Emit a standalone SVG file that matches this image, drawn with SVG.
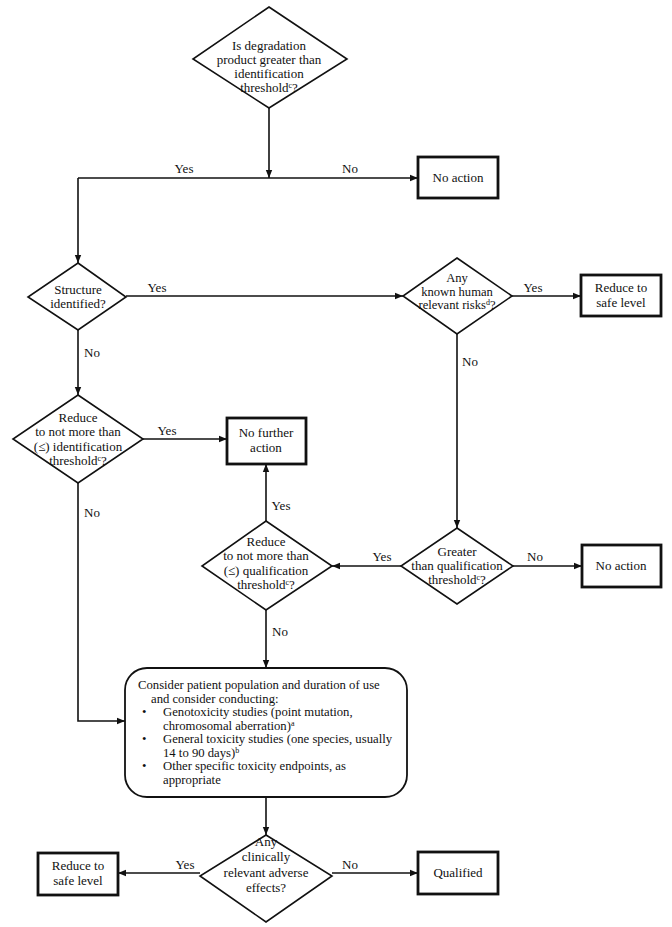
<svg xmlns="http://www.w3.org/2000/svg" width="672" height="927" viewBox="0 0 672 927">
<defs>
<marker id="ah" viewBox="0 0 10 10" refX="10" refY="5" markerWidth="8" markerHeight="8" markerUnits="userSpaceOnUse" orient="auto">
<path d="M0,1 L10,5 L0,9 Z" fill="#111"/>
</marker>
</defs>
<style>
text{font-family:"Liberation Serif","Times New Roman",serif;font-size:13px;fill:#111}
.c{text-anchor:middle}
.d{fill:#fff;stroke:#111;stroke-width:1.6}
.b{fill:#fff;stroke:#111;stroke-width:2.8}
.r{fill:#fff;stroke:#111;stroke-width:1.8}
.l{fill:none;stroke:#111;stroke-width:1.6}
.a{marker-end:url(#ah)}
.s{font-size:8px}
.t{font-size:12.7px}
.q{font-size:12.6px}
</style>
<rect width="672" height="927" fill="#fff"/>
<g id="connectors">
<path class="l a" d="M269,108 V178"/>
<path class="l" d="M78,178 H269"/>
<path class="l a" d="M269,178 H418"/>
<path class="l a" d="M78,178 V263"/>
<path class="l a" d="M126,296 H403"/>
<path class="l a" d="M512,296 H581"/>
<path class="l a" d="M78,330 V395"/>
<path class="l a" d="M143,439 H227"/>
<path class="l a" d="M457,334 V528"/>
<path class="l a" d="M513,566 H582"/>
<path class="l a" d="M401,566 H332"/>
<path class="l a" d="M266,521 V464"/>
<path class="l a" d="M78,483 V721 H125"/>
<path class="l a" d="M266,610 V668"/>
<path class="l a" d="M266,797 V835"/>
<path class="l a" d="M200,873 H118"/>
<path class="l a" d="M332,873 H418"/>
<text x="184" y="173" class="c">Yes</text>
<text x="350" y="173" class="c">No</text>
<text x="157" y="292" class="c">Yes</text>
<text x="533" y="292" class="c">Yes</text>
<text x="92" y="357" class="c">No</text>
<text x="470" y="366" class="c">No</text>
<text x="167" y="435" class="c">Yes</text>
<text x="281" y="510" class="c">Yes</text>
<text x="382" y="561" class="c">Yes</text>
<text x="535" y="561" class="c">No</text>
<text x="92" y="517" class="c">No</text>
<text x="280" y="636" class="c">No</text>
<text x="185" y="869" class="c">Yes</text>
<text x="350" y="869" class="c">No</text>
</g>
<g id="q1">
<polygon class="d" points="269,7 347,59 269,108 193,59"/>
<text class="c"><tspan x="269" y="50">Is degradation</tspan><tspan x="269" dy="14">product greater than</tspan><tspan x="269" dy="14">identification</tspan><tspan x="269" dy="14">threshold<tspan class="s" baseline-shift="super">c</tspan>?</tspan></text>
</g>
<g id="noaction1">
<rect class="b" x="418" y="157" width="80" height="41"/>
<text x="458" y="182" class="c">No action</text>
</g>
<g id="q2">
<polygon class="d" points="78,263 126,297 78,330 28,297"/>
<text class="c"><tspan x="78" y="294">Structure</tspan><tspan x="78" dy="14">identified?</tspan></text>
</g>
<g id="q3">
<polygon class="d" points="457,258 512,296 457,334 403,296"/>
<text class="c q"><tspan x="457" y="282">Any</tspan><tspan x="457" dy="13.5">known human</tspan><tspan x="457" dy="13.5">relevant risks<tspan class="s" baseline-shift="super">d</tspan>?</tspan></text>
</g>
<g id="reduce1">
<rect class="b" x="581" y="275" width="80" height="41"/>
<text class="c"><tspan x="621" y="292">Reduce to</tspan><tspan x="621" dy="15">safe level</tspan></text>
</g>
<g id="q4">
<polygon class="d" points="78,395 143,439 78,483 13,439"/>
<text class="c"><tspan x="78" y="422">Reduce</tspan><tspan x="78" dy="14">to not more than</tspan><tspan x="78" dy="15">(≤) identification</tspan><tspan x="78" dy="14">threshold<tspan class="s" baseline-shift="super">c</tspan>?</tspan></text>
</g>
<g id="nofurther">
<rect class="b" x="227" y="418" width="79" height="46"/>
<text class="c"><tspan x="266" y="437">No further</tspan><tspan x="266" dy="15">action</tspan></text>
</g>
<g id="q5">
<polygon class="d" points="457,528 513,566 457,604 401,566"/>
<text class="c"><tspan x="457" y="556">Greater</tspan><tspan x="457" dy="14">than qualification</tspan><tspan x="457" dy="14">threshold<tspan class="s" baseline-shift="super">c</tspan>?</tspan></text>
</g>
<g id="noaction2">
<rect class="b" x="582" y="545" width="79" height="42"/>
<text x="621" y="570" class="c">No action</text>
</g>
<g id="q6">
<polygon class="d" points="266,521 332,566 266,610 202,566"/>
<text class="c"><tspan x="266" y="546">Reduce</tspan><tspan x="266" dy="14">to not more than</tspan><tspan x="266" dy="14.5">(≤) qualification</tspan><tspan x="266" dy="14">threshold<tspan class="s" baseline-shift="super">c</tspan>?</tspan></text>
</g>
<g id="consider">
<rect class="r" x="125" y="668" width="282" height="129" rx="22" ry="22"/>
<text class="t"><tspan x="138" y="689">Consider patient population and duration of use</tspan><tspan x="151" dy="13.5">and consider conducting:</tspan><tspan x="142" dy="13.5">•</tspan><tspan x="163">Genotoxicity studies (point mutation,</tspan><tspan x="163" dy="13.5">chromosomal aberration)<tspan class="s" baseline-shift="super">a</tspan></tspan><tspan x="142" dy="13.5">•</tspan><tspan x="163">General toxicity studies (one species, usually</tspan><tspan x="163" dy="13.5">14 to 90 days)<tspan class="s" baseline-shift="super">b</tspan></tspan><tspan x="142" dy="13.5">•</tspan><tspan x="163">Other specific toxicity endpoints, as</tspan><tspan x="163" dy="13.5">appropriate</tspan></text>
</g>
<g id="q7">
<polygon class="d" points="266,835 332,876 266,922 200,876"/>
<text class="c"><tspan x="266" y="846">Any</tspan><tspan x="266" dy="15">clinically</tspan><tspan x="266" dy="16">relevant adverse</tspan><tspan x="266" dy="15">effects?</tspan></text>
</g>
<g id="reduce2">
<rect class="b" x="38" y="853" width="80" height="42"/>
<text class="c"><tspan x="78" y="870">Reduce to</tspan><tspan x="78" dy="15">safe level</tspan></text>
</g>
<g id="qualified">
<rect class="b" x="418" y="852" width="80" height="42"/>
<text x="458" y="877" class="c">Qualified</text>
</g>
</svg>
